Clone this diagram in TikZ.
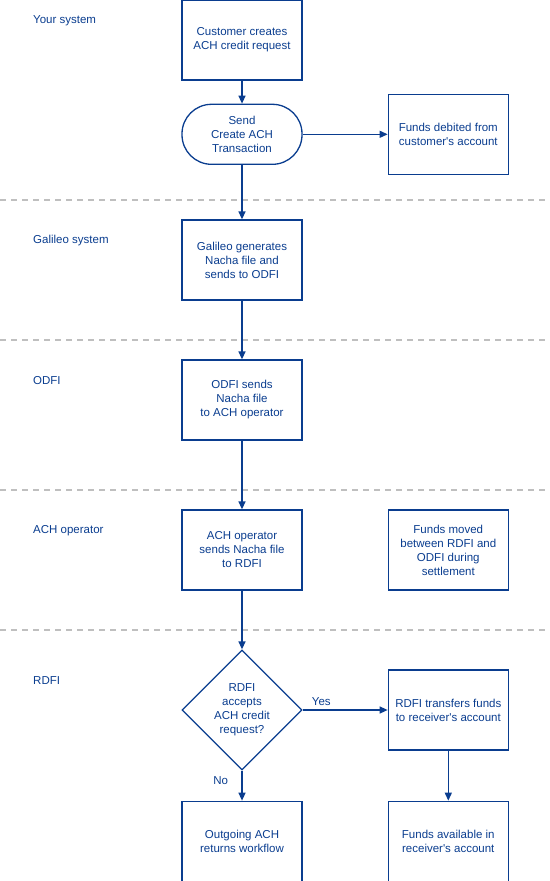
\documentclass[tikz,border=0pt]{standalone}
\usepackage{fontspec}
\setmainfont{Liberation Sans}
\usepackage{tikz}
\usetikzlibrary{arrows.meta,positioning,shapes.geometric}
\definecolor{achblue}{HTML}{0A3D8F}
\definecolor{lanegrey}{HTML}{BFBFBF}

\begin{document}
\begin{tikzpicture}[
  x=1pt,y=-1pt,
  node distance=23pt,
  every node/.style={text=achblue,font=\fontsize{11.5}{14}\selectfont},
  box/.style={draw=achblue,line width=1.3pt,minimum width=120pt,
              minimum height=80pt,align=center,inner sep=2pt},
  term/.style={draw=achblue,line width=1.3pt,minimum width=120pt,
              minimum height=60pt,rounded corners=29.5pt,align=center,inner sep=2pt},
  dec/.style={draw=achblue,line width=1.3pt,diamond,minimum width=120pt,
              minimum height=120pt,inner sep=0pt},
  lane/.style={anchor=west,inner sep=0pt},
  lanesep/.style={draw=lanegrey,line width=2pt,dash pattern=on 6pt off 5pt},
  arrow/.style={-{Triangle[length=8pt,width=7pt]},draw=achblue,line width=1.3pt}]
\useasboundingbox (0,0) rectangle (549,881);

% lanes
\node[lane] (laneyour) at (33,21) {Your system};
\node[lane] (lanegal) at (33,241) {Galileo system};
\node[lane] (laneodfi) at (33,381) {ODFI};
\node[lane] (laneach) at (33,531) {ACH operator};
\node[lane] (lanerdfi) at (33,681) {RDFI};
\draw[lanesep] (0,200) -- (549,200);
\draw[lanesep] (0,340) -- (549,340);
\draw[lanesep] (0,490) -- (549,490);
\draw[lanesep] (0,630) -- (549,630);

\node[box] (request) at (242,40) {Customer creates\\ACH credit request};
\node[term,below=23pt of request] (send) {Send\\Create ACH\\Transaction};
\node[box,right=85pt of send] (debited) {Funds debited from\\customer\textquotesingle s account};
\node[box] (galileo) at (242,260) {Galileo generates\\Nacha file and\\sends to ODFI};
\node[box] (odfi) at (242,400) {ODFI sends\\Nacha file\\to ACH operator};
\node[box] (operator) at (242,550) {ACH operator\\sends Nacha file\\to RDFI};
\node[box,right=85pt of operator] (settle) {Funds moved\\between RDFI and\\ODFI during\\settlement};
\node[dec] (accept) at (242,710) {};
\node[align=center] (accepttxt) at (accept.center) {RDFI\\accepts\\ACH credit\\request?};
\node[box,right=85pt of accept] (transfer) {RDFI transfers funds\\to receiver\textquotesingle s account};
\node[box,below=30pt of accept] (returns) {Outgoing ACH\\returns workflow};
\node[box,below=50pt of transfer] (available) {Funds available in\\receiver\textquotesingle s account};

\draw[arrow] (request) -- (send);
\draw[arrow] (send) -- (debited);
\draw[arrow] (send) -- (galileo);
\draw[arrow] (galileo) -- (odfi);
\draw[arrow] (odfi) -- (operator);
\draw[arrow] (operator) -- (accept);
\draw[arrow] (accept.east) -- node[pos=0.22,above] {Yes} (transfer);
\draw[arrow] (accept.south) -- node[pos=0.33,left=10pt] {No} (returns);
\draw[arrow] (transfer) -- (available);
\end{tikzpicture}
\end{document}
